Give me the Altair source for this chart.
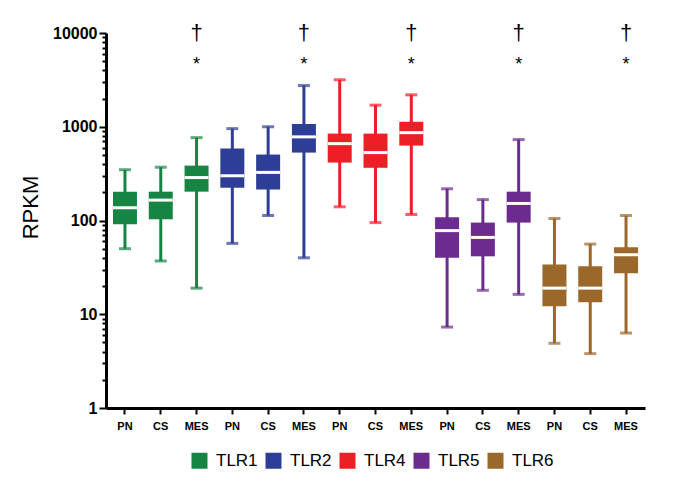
import altair as alt
import pandas as pd

genes = ["TLR1", "TLR2", "TLR4", "TLR5", "TLR6"]
conditions = ["PN", "CS", "MES"]
colors = ["#168544", "#2E3E96", "#EC1F27", "#6C2B8E", "#99682A"]

whisker_low = [50, 37, 19, 57, 113, 40, 140, 95, 116, 7.3, 18, 16.3, 4.9, 3.8, 6.3]
q1 = [91, 103, 203, 224, 214, 530, 415, 365, 630, 40, 41.5, 95, 12.2, 13.4, 27.3]
median = [137, 165, 287, 300, 326, 780, 660, 530, 865, 78, 66, 152, 19, 19, 43]
q3 = [203, 203, 385, 585, 505, 1070, 845, 845, 1130, 108, 95, 203, 34, 32.5, 51.7]
whisker_high = [348, 370, 765, 955, 1000, 2750, 3170, 1700, 2190, 218, 167, 730, 105, 56, 113]

sig_dagger = ["†"] * 5
sig_star = ["*"] * 5
dagger_y = 10000
star_y = 5000

rows = []
i = 0
for g in genes:
    for c in conditions:
        rows.append(dict(gene=g, cond=c, key=f"{g}|{c}", lo=whisker_low[i], q1=q1[i],
                         med=median[i], q3=q3[i], hi=whisker_high[i]))
        i += 1
df = pd.DataFrame(rows)
order = list(df["key"])

ann = pd.DataFrame(dict(key=[f"{g}|MES" for g in genes], dag=sig_dagger, star=sig_star,
                        dy=[dagger_y] * 5, sy=[star_y] * 5))

minor = []
for e in range(4):
    for m in range(1, 10):
        minor.append(m * 10 ** e)
minor.append(10000)

is_major = "indexof([1,10,100,1000,10000], datum.value) >= 0"

x_enc = alt.X("key:N", sort=order, scale=alt.Scale(domain=order, paddingInner=0, paddingOuter=0.03),
              axis=alt.Axis(title=None, labelExpr="split(datum.value, '|')[1]", labelAngle=0,
                            labelFont="Liberation Sans", labelFontWeight="bold", labelFontSize=11,
                            labelColor="black", labelPadding=6, tickSize=6, tickWidth=2,
                            tickColor="black", domainColor="black", domainWidth=3))
yscale = alt.Scale(type="log", domain=[1, 10000])
y_axis = alt.Axis(title="RPKM", values=minor, labelExpr=f"{is_major} ? format(datum.value, 'd') : ''",
                  labelFont="Liberation Sans", labelFontWeight="bold", labelFontSize=16,
                  labelColor="black", labelPadding=2,
                  tickSize={"condition": {"test": is_major, "value": 7}, "value": 4},
                  tickWidth=2, tickColor="black", domainColor="black", domainWidth=3,
                  titleFont="Liberation Sans", titleFontSize=22, titleFontWeight="normal",
                  titleColor="black", titleAngle=-90, titleX=-76, titleY=174,
                  titleAlign="center", titleBaseline="middle", grid=False)

legend = alt.Legend(title=None, orient="none", legendX=85, legendY=419,
                    direction="horizontal", columns=5, symbolType="square",
                    symbolSize=256, symbolStrokeWidth=0, symbolOpacity=1,
                    labelFont="Liberation Sans", labelFontSize=17, labelColor="black",
                    labelOffset=8, columnPadding=7, padding=0)
color_enc = alt.Color("gene:N", scale=alt.Scale(domain=genes, range=colors), legend=legend)

base = alt.Chart(df)

whisk = base.mark_rule(strokeWidth=3).encode(
    x=x_enc, y=alt.Y("lo:Q", scale=yscale, axis=y_axis), y2="hi:Q", color=color_enc)
cap_lo = base.mark_tick(size=12, thickness=3).encode(
    x=alt.X("key:N", sort=order), y=alt.Y("lo:Q", scale=yscale), color=color_enc)
cap_hi = base.mark_tick(size=12, thickness=3).encode(
    x=alt.X("key:N", sort=order), y=alt.Y("hi:Q", scale=yscale), color=color_enc)
box = base.mark_bar(size=24).encode(
    x=alt.X("key:N", sort=order), y=alt.Y("q1:Q", scale=yscale), y2="q3:Q", color=color_enc)
med = base.mark_tick(size=24, thickness=3, color="white", opacity=1).encode(
    x=alt.X("key:N", sort=order), y=alt.Y("med:Q", scale=yscale))

dag = alt.Chart(ann).mark_text(font="Liberation Sans", fontSize=22, color="black", baseline="middle").encode(
    x=alt.X("key:N", sort=order), y=alt.Y("dy:Q", scale=yscale), text="dag:N")
star = alt.Chart(ann).mark_text(font="Liberation Sans", fontSize=18, color="black", baseline="middle", dy=4).encode(
    x=alt.X("key:N", sort=order), y=alt.Y("sy:Q", scale=yscale), text="star:N")

chart = alt.layer(whisk, cap_lo, cap_hi, box, med, dag, star).properties(
    width=539, height=375,
    autosize=alt.AutoSizeParams(type="none"),
    padding={"left": 98, "top": 25, "right": 36, "bottom": 70},
).configure(background="white").configure_view(stroke=None)

chart.save("out.html", embed_options={"renderer": "svg", "actions": False})
